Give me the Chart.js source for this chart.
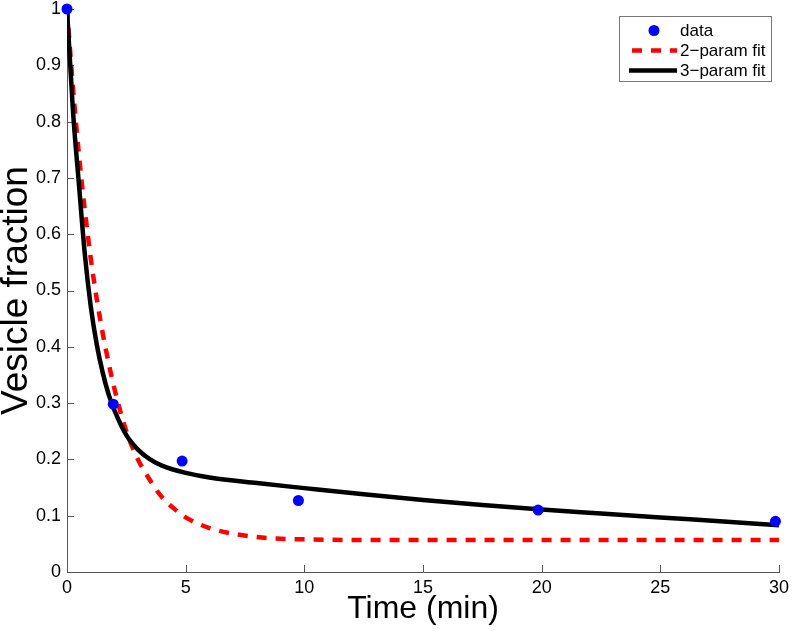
<!DOCTYPE html>
<html>
<head>
<meta charset="utf-8">
<script src="https://cdn.jsdelivr.net/npm/chart.js@4/dist/chart.umd.min.js"></script>
<style>
html, body {margin:0; padding:0; background:#fff}
</style>
</head>
<body>
<canvas id="chart" width="792" height="631"></canvas>
<script>
// ----------------------------------------------------------------------
// values
const data_t = [0, 1.95, 4.85, 9.75, 19.85, 29.85]
const data_v = [1.0, 0.298, 0.197, 0.127, 0.110, 0.090]

const fit2_t = [0, 0.25, 0.5, 0.75, 1, 1.25, 1.5, 1.75, 2, 2.5, 3, 3.5, 4, 4.5, 5, 6, 7, 8, 9, 10, 12, 15, 20, 25, 30]
const fit2_v = [1.0, 0.861, 0.743, 0.643, 0.557, 0.486, 0.425, 0.372, 0.325, 0.250, 0.199, 0.163, 0.133, 0.113, 0.097, 0.078, 0.068, 0.062, 0.059, 0.058, 0.057, 0.057, 0.057, 0.057, 0.057]

const fit3_t = [0, 0.25, 0.5, 0.75, 1, 1.25, 1.5, 1.75, 2, 2.5, 3, 3.5, 4, 5, 6, 8, 10, 12.5, 15, 17.5, 20, 22.5, 25, 27.5, 30]
const fit3_v = [1.0, 0.82, 0.69, 0.565, 0.472, 0.405, 0.355, 0.316, 0.287, 0.243, 0.217, 0.200, 0.189, 0.176, 0.168, 0.158, 0.149, 0.138, 0.128, 0.119, 0.111, 0.104, 0.097, 0.090, 0.083]

const x_ticks = [0, 5, 10, 15, 20, 25, 30]
const x_labels = ["0", "5", "10", "15", "20", "25", "30"]
const y_ticks = [0, 0.1, 0.2, 0.3, 0.4, 0.5, 0.6, 0.7, 0.8, 0.9, 1]
const y_labels = ["0", "0.1", "0.2", "0.3", "0.4", "0.5", "0.6", "0.7", "0.8", "0.9", "1"]

const series_names = ["data", "2\u2212param fit", "3\u2212param fit"]

const font_family = "'Liberation Sans', Arial, Helvetica, sans-serif"
const axis_color = "#555"

// ----------------------------------------------------------------------
function pairs (xs, ys)
{
	return xs.map ((x, i) => ({x: x, y: ys[i]}))
}

// tick marks pointing into the plot, as matlab draws them
const inner_ticks = {
	id: 'inner_ticks',
	beforeDatasetsDraw (chart)
		{
		const ctx = chart.ctx
		const xs = chart.scales.x
		const ys = chart.scales.y
		ctx.save ()
		ctx.strokeStyle = axis_color
		ctx.lineWidth = 1
		ctx.beginPath ()
		for (const t of xs.ticks)
			{
			const px = Math.round (xs.getPixelForValue (t.value)) + 0.5
			ctx.moveTo (px, ys.bottom)
			ctx.lineTo (px, ys.bottom - 7)
			}
		for (const t of ys.ticks)
			{
			const py = Math.round (ys.getPixelForValue (t.value)) + 0.5
			ctx.moveTo (xs.left, py)
			ctx.lineTo (xs.left + 7, py)
			}
		ctx.stroke ()
		ctx.restore ()
		}
	}

// boxed legend in the upper right corner
const box_legend = {
	id: 'box_legend',
	afterDraw (chart)
		{
		const ctx = chart.ctx
		const sets = chart.data.datasets
		const left = 619.5, top = 16.5, width = 152, height = 65
		ctx.save ()
		ctx.fillStyle = "#fff"
		ctx.fillRect (left, top, width, height)
		ctx.strokeStyle = "#777"
		ctx.lineWidth = 1
		ctx.strokeRect (left, top, width, height)
		ctx.font = "17px " + font_family
		ctx.textBaseline = "middle"
		ctx.fillStyle = "#000"
		const rows = [30.5, 50.5, 70.5]
		sets.forEach ((ds, i) =>
			{
			const y = rows[i]
			if (ds.showLine === false)
				{
				ctx.beginPath ()
				ctx.fillStyle = ds.backgroundColor
				ctx.arc (654, y, 5.5, 0, Math.PI * 2)
				ctx.fill ()
				}
			else
				{
				ctx.beginPath ()
				ctx.strokeStyle = ds.borderColor
				ctx.lineWidth = ds.borderWidth
				ctx.setLineDash (ds.borderDash || [])
				ctx.moveTo (ds.borderDash ? 632 : 629, y)
				ctx.lineTo (677, y)
				ctx.stroke ()
				ctx.setLineDash ([])
				}
			ctx.fillStyle = "#000"
			ctx.fillText (ds.label, 680, y + 1)
			})
		ctx.restore ()
		}
	}

// ----------------------------------------------------------------------
const graph_data = {datasets: [
	{label: series_names[0],
	data: pairs (data_t, data_v),
	showLine: false,
	pointRadius: 5.5,
	pointBackgroundColor: "#0000ff",
	pointBorderWidth: 0,
	backgroundColor: "#0000ff",
	borderColor: "#0000ff",
	clip: false,
	order: 0
	},
	{label: series_names[1],
	data: pairs (fit2_t, fit2_v),
	showLine: true,
	borderColor: "#ff0000",
	borderWidth: 4.5,
	borderDash: [10, 9],
	pointRadius: 0,
	cubicInterpolationMode: 'monotone',
	order: 2
	},
	{label: series_names[2],
	data: pairs (fit3_t, fit3_v),
	showLine: true,
	borderColor: "#000000",
	borderWidth: 4.5,
	pointRadius: 0,
	cubicInterpolationMode: 'monotone',
	order: 1
	}
	]}

const tick_font = {family: font_family, size: 18}

const config = {
	type: 'scatter',
	data: graph_data,
	plugins: [inner_ticks, box_legend],
	options: {
		responsive: false,
		animation: false,
		layout: {padding: {top: 9, right: 13, left: 0, bottom: 0}},
		plugins: {legend: {display: false}, tooltip: {enabled: false}},
		scales: {
			x: {
				type: 'linear',
				min: 0,
				max: 30,
				afterBuildTicks: (s) => { s.ticks = x_ticks.map (v => ({value: v})) },
				afterFit: (s) => { s.height = 59; s.paddingLeft = 0; s.paddingRight = 0 },
				ticks: {callback: (v, i) => x_labels[i], font: tick_font, color: "#000",
					padding: 5, maxRotation: 0, autoSkip: false},
				grid: {display: false, drawTicks: false},
				border: {display: true, color: axis_color, width: 1},
				title: {display: true, text: "Time (min)", color: "#000",
					font: {family: font_family, size: 32, lineHeight: 1},
					padding: {top: 0, bottom: 6}}
				},
			y: {
				type: 'linear',
				min: 0,
				max: 1,
				afterBuildTicks: (s) => { s.ticks = y_ticks.map (v => ({value: v})) },
				afterFit: (s) => { s.width = 67; s.paddingTop = 0; s.paddingBottom = 0 },
				ticks: {callback: (v, i) => y_labels[i], font: tick_font, color: "#000",
					padding: 6, autoSkip: false},
				grid: {display: false, drawTicks: false},
				border: {display: true, color: axis_color, width: 1},
				title: {display: true, text: "Vesicle fraction", color: "#000",
					font: {family: font_family, size: 37, lineHeight: 0.9},
					padding: {top: 0, bottom: 0}}
				}
			}
		}
	}

const context = document.getElementById ("chart")
const chart = new Chart (context, config)
</script>
</body>
</html>
